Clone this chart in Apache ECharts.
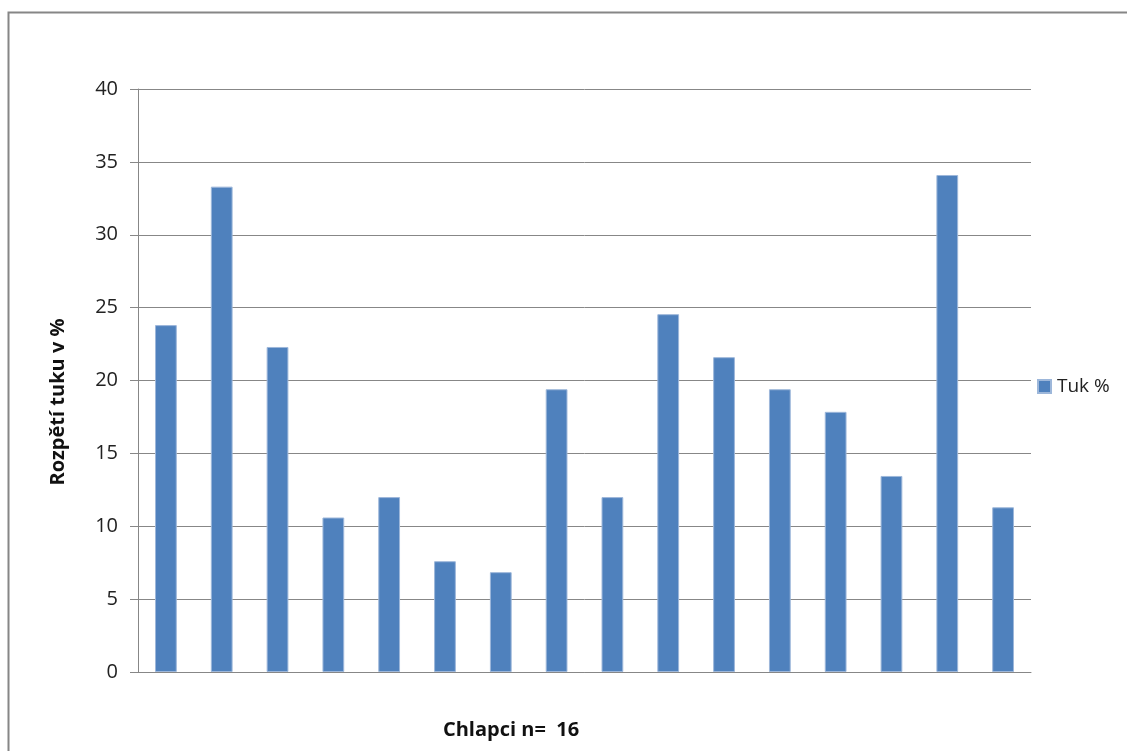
<!DOCTYPE html>
<html>
<head>
<meta charset="utf-8">
<script src="https://cdn.jsdelivr.net/npm/echarts@6/dist/echarts.min.js"></script>
<style>
  html, body { margin: 0; padding: 0; background: #fff; }
  #chart { width: 1127px; height: 751px; }
</style>
</head>
<body>
<div id="chart"></div>
<script>
// Body-fat range per boy (16 boys)
const categories = ['1', '2', '3', '4', '5', '6', '7', '8', '9', '10', '11', '12', '13', '14', '15', '16'];
const tukValues = [23.8, 33.3, 22.3, 10.6, 12.0, 7.6, 6.85, 19.4, 12.0, 24.55, 21.6, 19.4, 17.85, 13.45, 34.1, 11.3];
const seriesName = 'Tuk %';
const yAxisTitle = 'Rozpětí tuku v %';
const xAxisTitle = 'Chlapci n=  16';

const FONT = '"Open Sans", "Liberation Sans", sans-serif';
const GRID_COLOR = '#878787';

const chart = echarts.init(document.getElementById('chart'), null, { renderer: 'canvas' });

chart.setOption({
  animation: false,
  backgroundColor: '#ffffff',
  grid: { left: 138, right: 96, top: 89, bottom: 79, containLabel: false },
  legend: {
    data: [seriesName],
    orient: 'vertical',
    left: 1032,
    top: 372,
    itemWidth: 13,
    itemHeight: 13,
    itemGap: 6,
    icon: 'rect',
    textStyle: { fontFamily: FONT, fontSize: 19, color: '#222', padding: [0, 0, 0, 1] }
  },
  xAxis: {
    type: 'category',
    data: categories,
    axisLine: { show: true, lineStyle: { color: GRID_COLOR, width: 1 } },
    axisTick: { show: false },
    axisLabel: { show: false },
    splitLine: { show: false }
  },
  yAxis: {
    type: 'value',
    min: 0,
    max: 40,
    interval: 5,
    axisLine: { show: true, lineStyle: { color: GRID_COLOR, width: 1 } },
    axisTick: { show: true, length: 8, lineStyle: { color: GRID_COLOR, width: 1 } },
    axisLabel: { margin: 20, fontFamily: FONT, fontSize: 20, color: '#222' },
    splitLine: { show: true, lineStyle: { color: GRID_COLOR, width: 1 } }
  },
  series: [{
    name: seriesName,
    type: 'bar',
    data: tukValues,
    barWidth: '39%',
    itemStyle: { color: '#4F81BD', borderColor: '#9db7da', borderWidth: 1 }
  }],
  graphic: [
    {
      type: 'rect',
      left: 6, top: 10,
      shape: { width: 1200, height: 800 },
      style: { fill: 'none', stroke: '#868686', lineWidth: 2 },
      silent: true
    },
    {
      type: 'text',
      x: 58, y: 402,
      rotation: Math.PI / 2,
      style: {
        text: yAxisTitle,
        fontFamily: FONT, fontSize: 20, fontWeight: 'bold', fill: '#111',
        align: 'center', verticalAlign: 'middle'
      }
    },
    {
      type: 'text',
      x: 511, y: 730,
      style: {
        text: xAxisTitle,
        fontFamily: FONT, fontSize: 20, fontWeight: 'bold', fill: '#111',
        align: 'center', verticalAlign: 'middle'
      }
    }
  ]
});
</script>
</body>
</html>
